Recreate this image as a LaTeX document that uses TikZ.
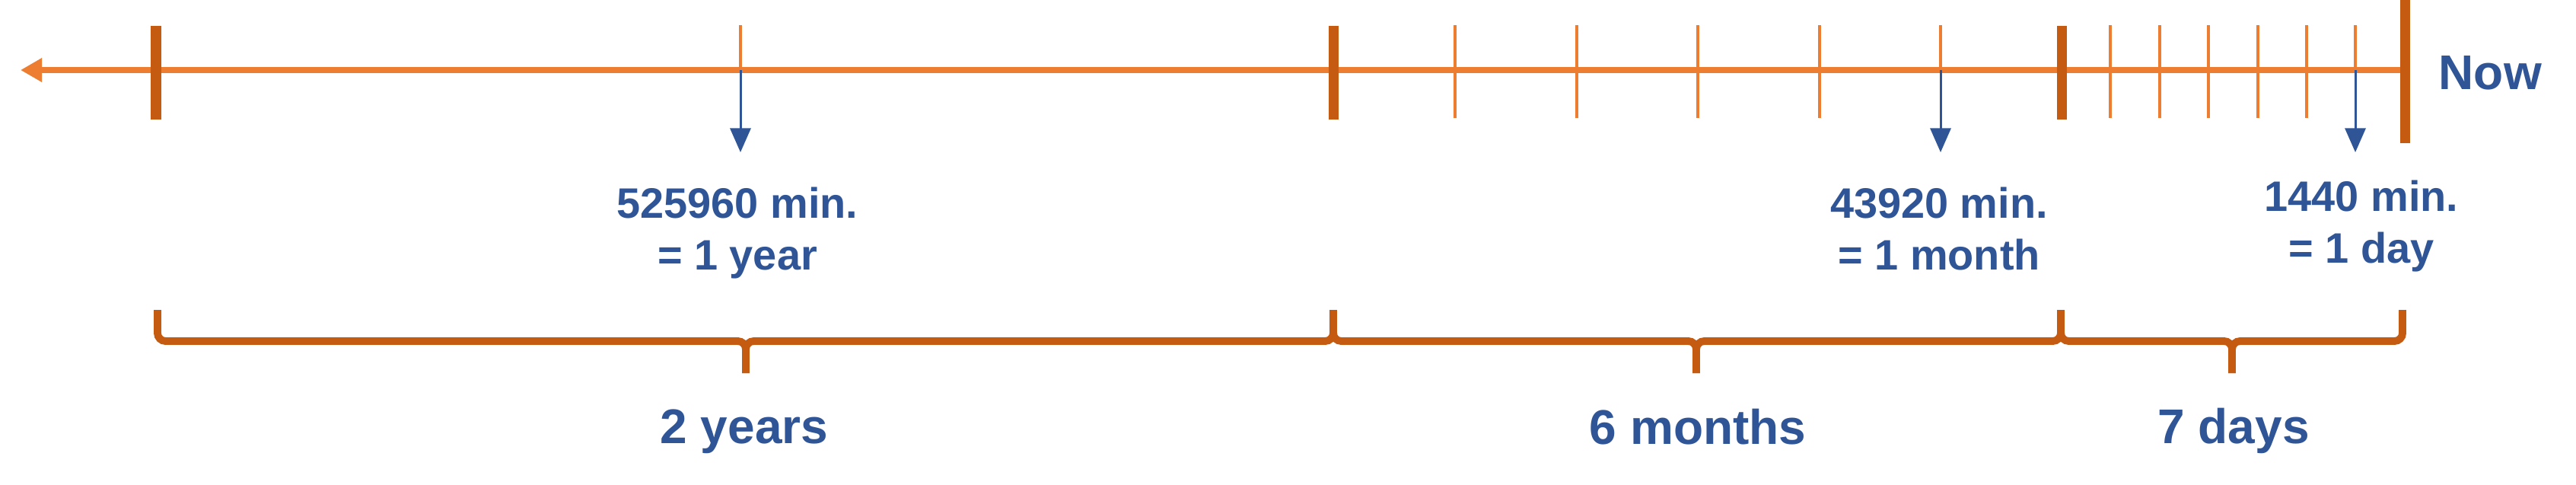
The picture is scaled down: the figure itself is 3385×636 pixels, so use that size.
\documentclass[tikz,border=0pt]{standalone}
\usepackage{fontspec}
\setmainfont{Liberation Sans}
\usepackage{tikz}
\usetikzlibrary{arrows.meta,positioning}
\definecolor{tangerine}{HTML}{ED7D31}
\definecolor{rust}{HTML}{C55A11}
\definecolor{cobalt}{HTML}{2F5597}
\tikzset{
  axis/.style={{Triangle[length=8pt,width=8.5pt]}-,line width=2.3pt,draw=tangerine},
  major/.style={line width=3.7pt,draw=rust},
  minor/.style={line width=1.3pt,draw=tangerine},
  pointer/.style={-{Triangle[length=9pt,width=7.7pt]},line width=0.85pt,draw=cobalt},
  span/.style={line width=2.8pt,draw=rust,rounded corners=3pt},
  minlabel/.style={text=cobalt,font=\fontsize{15.9}{19.3}\selectfont\bfseries,align=center,inner sep=0pt},
  spanlabel/.style={text=cobalt,font=\fontsize{18.2}{22}\selectfont\bfseries,inner sep=0pt}
}
\newcommand{\spanbrace}[3]{%
  \draw[span] (#1,407) -- (#1,448) -- (#2,448) -- (#2,490);
  \draw[span] (#3,407) -- (#3,448) -- (#2,448) -- (#2,490);}

\begin{document}
\begin{tikzpicture}[x=0.01cm,y=-0.01cm]
\useasboundingbox[fill=white] (0,0) rectangle (3385,636);
% time axis
\coordinate (far) at (27,92);
\coordinate (now) at (3160,92);
\draw[axis] (far) -- (now);
\foreach \x in {1912,2072,2231,2391,2773,2838,2902,2967,3031}
  \draw[minor] (\x,33) -- (\x,155);
\foreach \x in {205,1752,2709}
  \draw[major] (\x,34) -- (\x,157);
\draw[major] (3160,0) -- (3160,188);
\node[spanlabel,anchor=base west] (nowlbl) at (3204,117) {Now};
% one unit in minutes
\foreach \x/\n in {973/yr,2550/mo,3095/dy}{
  \draw[minor] (\x,33) -- (\x,92);
  \coordinate (\n) at (\x,92);
  \coordinate (\n tip) at (\x,200);
  \draw[pointer] (\n) -- (\n tip);
}
\node[minlabel,anchor=north] (yrlbl) at (969,245) {525960 min.\\= 1 year};
\node[minlabel,anchor=north] (molbl) at (2548,245) {43920 min.\\= 1 month};
\node[minlabel,anchor=north] (dylbl) at (3103,236) {1440 min.\\= 1 day};
% spans
\spanbrace{207}{980}{1752}
\spanbrace{1752}{2229}{2708}
\spanbrace{2708}{2933}{3157}
\node[spanlabel,anchor=base] (yrs) at (978,582) {2 years};
\node[spanlabel,anchor=base] (mos) at (2231,583) {6 months};
\node[spanlabel,anchor=base] (dys) at (2935,582) {7 days};
\end{tikzpicture}
\end{document}
